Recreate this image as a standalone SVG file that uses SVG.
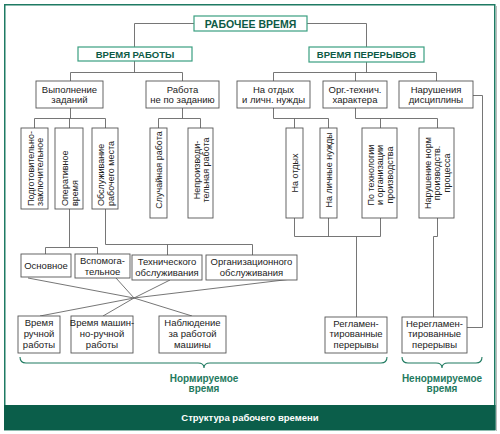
<svg xmlns="http://www.w3.org/2000/svg" width="500" height="434" viewBox="0 0 500 434">
<style>
text{font-family:"Liberation Sans",Arial,sans-serif;font-size:9.5px;fill:#222;text-anchor:middle}
.t{font-weight:bold;fill:#0d5a45}
.v{font-size:9px}
.box{fill:#fff;stroke:#555;stroke-width:0.9}
.tbox{fill:#fff;stroke:#3a9f80;stroke-width:1.2}
.c{fill:none;stroke:#666;stroke-width:0.9}
.br{fill:none;stroke:#1f7a60;stroke-width:1.1}
.g{font-weight:bold;fill:#1f7a60;font-size:10px}
</style>
<rect x="0" y="0" width="500" height="434" fill="#fff"/>
<rect x="4.75" y="4.75" width="490" height="425" fill="#fff" stroke="#1e7a63" stroke-width="1.5"/>
<line x1="496.5" y1="6" x2="496.5" y2="431" stroke="#bbb" stroke-width="1"/>
<rect x="4" y="405" width="491.5" height="25" fill="#0b5e4a"/>
<text x="250" y="421" style="font-weight:bold;fill:#fff">Структура рабочего времени</text>

<g id="connectors">
<polyline class="c" points="194,23.5 134.5,23.5 134.5,47"/>
<polyline class="c" points="307,23.5 366.5,23.5 366.5,47"/>
<polyline class="c" points="134.5,61 134.5,72.5"/>
<polyline class="c" points="70.5,81 70.5,72.5 182.5,72.5 182.5,81"/>
<polyline class="c" points="366.5,62 366.5,72.5"/>
<polyline class="c" points="273.5,81 273.5,72.5 436.5,72.5 436.5,81"/>
<polyline class="c" points="355.5,72.5 355.5,81"/>
<polyline class="c" points="70.5,108 70.5,118.5"/>
<polyline class="c" points="34.5,128 34.5,118.5 105.5,118.5 105.5,128"/>
<polyline class="c" points="69.5,118.5 69.5,128"/>
<polyline class="c" points="182.5,108 182.5,118.5"/>
<polyline class="c" points="158.5,128 158.5,118.5 200.5,118.5 200.5,128"/>
<polyline class="c" points="273.5,108 273.5,118.5 328.5,118.5 328.5,128"/>
<polyline class="c" points="294.5,118.5 294.5,128"/>
<polyline class="c" points="355.5,108 355.5,118.5 437.5,118.5 437.5,128"/>
<polyline class="c" points="380.5,118.5 380.5,128"/>
<polyline class="c" points="69.5,209 69.5,247.5"/>
<polyline class="c" points="45.5,254 45.5,247.5 97.5,247.5 97.5,254"/>
<polyline class="c" points="105.5,209 105.5,244.5 252.5,244.5 252.5,255"/>
<polyline class="c" points="167.5,244.5 167.5,255"/>
<polyline class="c" points="294.5,218 294.5,236.5 380.5,236.5 380.5,218"/>
<polyline class="c" points="328.5,218 328.5,236.5"/>
<polyline class="c" points="356.5,236.5 356.5,317"/>
<polyline class="c" points="437.5,218 437.5,236.5 433.5,236.5 433.5,317"/>
<polyline class="c" points="473,95.5 482.5,95.5 482.5,327.5 467,327.5"/>
<line class="c" x1="28" y1="278" x2="134" y2="298"/>
<line class="c" x1="116" y1="278" x2="134" y2="298"/>
<line class="c" x1="170" y1="280" x2="134" y2="298"/>
<line class="c" x1="292" y1="279" x2="134" y2="298"/>
<line class="c" x1="134" y1="298" x2="40" y2="316"/>
<line class="c" x1="134" y1="298" x2="103" y2="316"/>
<line class="c" x1="134" y1="298" x2="192" y2="316"/>
</g>

<g id="n-rabochee">
<rect class="tbox" x="194" y="16" width="113" height="15"/>
<text class="t" x="250.5" y="27.5" style="font-size:10.5px">РАБОЧЕЕ ВРЕМЯ</text>
</g>
<g id="n-rabota">
<rect class="tbox" x="78" y="47" width="114" height="14"/>
<text class="t" x="135" y="57.8">ВРЕМЯ РАБОТЫ</text>
</g>
<g id="n-pereryv">
<rect class="tbox" x="309" y="47" width="115" height="15"/>
<text class="t" x="366.5" y="58.3">ВРЕМЯ ПЕРЕРЫВОВ</text>
</g>

<g id="n-vypolnenie">
<rect class="box" x="36" y="81" width="67" height="27"/>
<text x="69.5" y="92.5">Выполнение</text><text x="69.5" y="103">заданий</text>
</g>
<g id="n-ne-po-zad">
<rect class="box" x="146" y="81" width="73" height="27"/>
<text x="182.5" y="92.5">Работа</text><text x="182.5" y="103">не по заданию</text>
</g>
<g id="n-otdyh">
<rect class="box" x="237" y="81" width="73" height="27"/>
<text x="273.5" y="92.5">На отдых</text><text x="273.5" y="103">и личн. нужды</text>
</g>
<g id="n-org">
<rect class="box" x="323" y="81" width="64" height="27"/>
<text x="355" y="92.5">Орг.-технич.</text><text x="355" y="103">характера</text>
</g>
<g id="n-narush">
<rect class="box" x="399" y="81" width="74" height="27"/>
<text x="436" y="92.5">Нарушения</text><text x="436" y="103">дисциплины</text>
</g>

<g id="n-podg">
<rect class="box" x="21" y="128" width="27" height="81"/>
<g transform="translate(34.5,206) rotate(-90)" style="text-anchor:start"><text class="v" x="0" y="-1" style="text-anchor:start">Подготовительно-</text><text class="v" x="0" y="8.5" style="text-anchor:start">заключительное</text></g>
</g>
<g id="n-oper">
<rect class="box" x="55" y="128" width="28" height="81"/>
<g transform="translate(69,206) rotate(-90)"><text class="v" x="0" y="-1" style="text-anchor:start">Оперативное</text><text class="v" x="0" y="8.5" style="text-anchor:start">время</text></g>
</g>
<g id="n-obsl">
<rect class="box" x="92" y="128" width="26" height="81"/>
<g transform="translate(105,206) rotate(-90)"><text class="v" x="0" y="-1" style="text-anchor:start">Обслуживание</text><text class="v" x="0" y="8.5" style="text-anchor:start">рабочего места</text></g>
</g>
<g id="n-sluch">
<rect class="box" x="150" y="128" width="17" height="90"/>
<g transform="translate(158.5,170) rotate(-90)"><text class="v" x="0" y="3.5">Случайная работа</text></g>
</g>
<g id="n-neproizv">
<rect class="box" x="188" y="128" width="25" height="90"/>
<g transform="translate(200.5,170) rotate(-90)"><text class="v" x="0" y="-1">Непроизводи-</text><text class="v" x="0" y="8.5">тельная работа</text></g>
</g>
<g id="n-na-otdyh">
<rect class="box" x="286" y="128" width="17" height="90"/>
<g transform="translate(294.5,173) rotate(-90)"><text class="v" x="0" y="3.5">На отдых</text></g>
</g>
<g id="n-lichnye">
<rect class="box" x="320" y="128" width="17" height="90"/>
<g transform="translate(328.5,170) rotate(-90)"><text class="v" x="0" y="3.5">На личные нужды</text></g>
</g>
<g id="n-tehnol">
<rect class="box" x="362" y="128" width="35" height="90"/>
<g transform="translate(379.5,175) rotate(-90)"><text class="v" x="0" y="-6">По технологии</text><text class="v" x="0" y="3.5">и организации</text><text class="v" x="0" y="13">производства</text></g>
</g>
<g id="n-narush-norm">
<rect class="box" x="419" y="128" width="35" height="90"/>
<g transform="translate(436.5,173) rotate(-90)"><text class="v" x="0" y="-6">Нарушение норм</text><text class="v" x="0" y="3.5">производств.</text><text class="v" x="0" y="13">процесса</text></g>
</g>

<g id="n-osnovnoe">
<rect class="box" x="21" y="254" width="50" height="23"/>
<text x="46" y="268.5">Основное</text>
</g>
<g id="n-vspom">
<rect class="box" x="75" y="254" width="55" height="24"/>
<text x="102.5" y="264">Вспомога-</text><text x="102.5" y="274.5">тельное</text>
</g>
<g id="n-tehn-obsl">
<rect class="box" x="132" y="255" width="70" height="25"/>
<text x="167" y="265">Технического</text><text x="167" y="276">обслуживания</text>
</g>
<g id="n-org-obsl">
<rect class="box" x="206" y="255" width="91" height="25"/>
<text x="251.5" y="265">Организационного</text><text x="251.5" y="276">обслуживания</text>
</g>

<g id="n-ruchn">
<rect class="box" x="18" y="316" width="42" height="37"/>
<text x="39" y="325.5">Время</text><text x="39" y="336.5">ручной</text><text x="39" y="347.5">работы</text>
</g>
<g id="n-mash-ruchn">
<rect class="box" x="71" y="316" width="62" height="37"/>
<text x="102" y="325.5">Время машин-</text><text x="102" y="336.5">но-ручной</text><text x="102" y="347.5">работы</text>
</g>
<g id="n-nabl">
<rect class="box" x="159" y="316" width="67" height="37"/>
<text x="192.5" y="325.5">Наблюдение</text><text x="192.5" y="336.5">за работой</text><text x="192.5" y="347.5">машины</text>
</g>
<g id="n-regl">
<rect class="box" x="325" y="317" width="62" height="36"/>
<text x="356" y="326.5">Регламен-</text><text x="356" y="337">тированные</text><text x="356" y="347.5">перерывы</text>
</g>
<g id="n-neregl">
<rect class="box" x="402" y="317" width="65" height="36"/>
<text x="434.5" y="326.5">Нерегламен-</text><text x="434.5" y="337">тированные</text><text x="434.5" y="347.5">перерывы</text>
</g>

<g id="brace-norm">
<path class="br" d="M20,357 Q20,363 26,363 L198,363 Q204,363 204,368 Q204,363 210,363 L381,363 Q387,363 387,357"/>
<text class="g" x="204" y="382">Нормируемое</text><text class="g" x="204" y="392">время</text>
</g>
<g id="brace-nenorm">
<path class="br" d="M402,357 Q402,363 408,363 L436,363 Q442,363 442,368 Q442,363 448,363 L476,363 Q482,363 482,357"/>
<text class="g" x="442" y="382">Ненормируемое</text><text class="g" x="442" y="392">время</text>
</g>
</svg>
